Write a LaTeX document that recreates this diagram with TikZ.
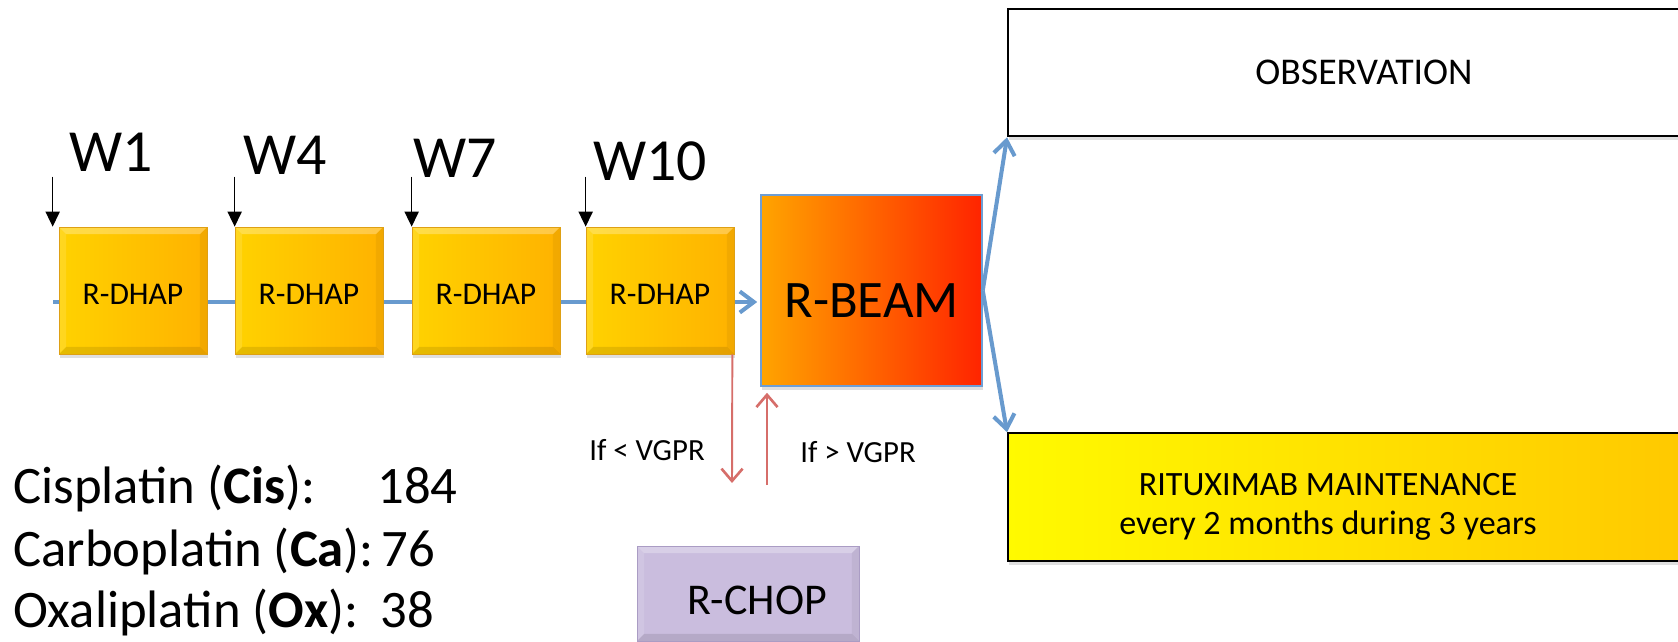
\documentclass[tikz,border=0pt]{standalone}
\usepackage{fontspec}
\setmainfont{Carlito}
\usetikzlibrary{arrows.meta,shadows,backgrounds}

\definecolor{dhapL}{RGB}{255,210,0}
\definecolor{dhapR}{RGB}{255,178,0}
\definecolor{dhapline}{RGB}{222,160,20}
\definecolor{beamL}{RGB}{255,164,0}
\definecolor{beamR}{RGB}{255,36,0}
\definecolor{beamline}{RGB}{110,158,212}
\definecolor{flowblue}{RGB}{104,154,206}
\definecolor{vgprred}{RGB}{214,110,106}
\definecolor{chopfill}{RGB}{202,189,222}
\definecolor{chopline}{RGB}{170,156,196}
\definecolor{ritL}{RGB}{255,250,0}
\definecolor{ritR}{RGB}{255,198,0}

% width of the bevelled rim on the boxes
\newcommand\bevw{0.14cm}

\tikzset{
  bevel/.style={path picture={
    \fill[white,opacity=.28] (path picture bounding box.north west) -- (path picture bounding box.north east)
      -- ([xshift=-\bevw,yshift=-\bevw]path picture bounding box.north east)
      -- ([xshift=\bevw,yshift=-\bevw]path picture bounding box.north west) -- cycle;
    \fill[white,opacity=.12] (path picture bounding box.north west) -- (path picture bounding box.south west)
      -- ([xshift=\bevw,yshift=\bevw]path picture bounding box.south west)
      -- ([xshift=\bevw,yshift=-\bevw]path picture bounding box.north west) -- cycle;
    \fill[black,opacity=.10] (path picture bounding box.south west) -- (path picture bounding box.south east)
      -- ([xshift=-\bevw,yshift=\bevw]path picture bounding box.south east)
      -- ([xshift=\bevw,yshift=\bevw]path picture bounding box.south west) -- cycle;
    \fill[black,opacity=.05] (path picture bounding box.north east) -- (path picture bounding box.south east)
      -- ([xshift=-\bevw,yshift=\bevw]path picture bounding box.south east)
      -- ([xshift=-\bevw,yshift=-\bevw]path picture bounding box.north east) -- cycle;
  }},
  softshadow/.style={drop shadow={opacity=.25,shadow xshift=0.6pt,shadow yshift=-2.2pt}}
}

\begin{document}
\begin{tikzpicture}[x=0.02cm, y=-0.02cm,
    dhap/.style={draw=dhapline, left color=dhapL, right color=dhapR, minimum width=2.96cm,
      minimum height=2.54cm, bevel, softshadow},
    beambox/.style={draw=beamline, line width=0.9pt, left color=beamL, right color=beamR,
      minimum width=4.42cm, minimum height=3.82cm, softshadow},
    chopbox/.style={draw=chopline, fill=chopfill, minimum width=4.44cm, minimum height=1.9cm,
      bevel, softshadow},
    outbox/.style={draw=black, line width=1.2pt, minimum width=14.24cm, minimum height=2.55cm,
      softshadow},
    wlabel/.style={font=\fontsize{34}{40}\selectfont, inner sep=0pt},
    warrow/.style={black, line width=0.8pt, -{Triangle[length=8.5pt,width=8pt]}},
    flow/.style={draw=flowblue, line width=2.3pt, -{Straight Barb[length=8pt,width=12pt]}},
    vgpr/.style={draw=vgprred, line width=1.1pt, -{Straight Barb[length=7pt,width=12pt,line width=1.5pt]}},
    vgprlabel/.style={font=\fontsize{17.5}{20}\selectfont},
    plat/.style={font=\fontsize{30}{36}\selectfont, inner sep=0pt, anchor=base west}]

\useasboundingbox (0,0) rectangle (1678,642);
\clip (0,0) rectangle (1678,642);

% induction cycles
\foreach \i/\x in {1/133,2/309,3/486,4/660}
  \node[dhap, label={[yshift=-0.08cm, font=\fontsize{18}{21}\selectfont]center:R-DHAP}]
    (dhap\i) at (\x,290.5) {};

\node[beambox, label={[yshift=-0.2cm, font=\fontsize{30}{36}\selectfont]center:R-BEAM}]
  (beam) at (871.5,290.5) {};
\node[chopbox, label={[xshift=0.18cm, yshift=-0.14cm, font=\fontsize{25}{30}\selectfont]center:R-CHOP}]
  (chop) at (748,593.5) {};

% randomisation arms
\node[outbox, fill=white, font=\fontsize{21.5}{25}\selectfont] (obs) at (1364,72.5) {OBSERVATION};
\node[outbox, left color=ritL, right color=ritR] (rit) at (1364,497) {};
\node[align=center, font=\fontsize{19.4}{22.5}\selectfont] (ritext) at (1328,507)
  {RITUXIMAB MAINTENANCE\\every 2 months during 3 years};

% weeks
\foreach \i/\w/\x/\y/\dx in {1/W1/111/152/-0.12, 2/W4/285/155/0, 3/W7/455/158/0, 4/W10/650/161/0}
{
  \node[wlabel] (w\i) at (\x,\y) {\w};
  \draw[warrow] ([xshift=\dx cm,yshift=1cm]dhap\i.north west) -- ([xshift=\dx cm]dhap\i.north west);
}

% time line behind the cycles
\coordinate (start) at (53,302);
\begin{scope}[on background layer]
  \draw[flow, shorten >=0.06cm] (start) -- (start -| beam.west);
\end{scope}

\draw[flow] (beam.east) -- (obs.south west);
\draw[flow] (beam.east) -- (rit.north west);

% response after R-DHAP
\coordinate (lo) at (732,483);
\coordinate (hi) at (767,485);
\draw[vgpr] ([xshift=-0.04cm]dhap4.south east) -- (lo);
\draw[vgpr, shorten >=0.12cm] (hi) -- (hi |- beam.south);
\node[vgprlabel] (lt) at (647,450) {If < VGPR};
\node[vgprlabel] (gt) at (858,452) {If > VGPR};

% platinum counts
\foreach \n/\a/\v/\x/\y in {Cisplatin/Cis/184/377/503, Carboplatin/Ca/76/381/566, Oxaliplatin/Ox/38/380/627}
{
  \node[plat] (p\a) at (13,\y) {\n\ (\textbf{\a}):};
  \node[plat] (n\a) at (\x,\y) {\v};
}

\end{tikzpicture}
\end{document}
